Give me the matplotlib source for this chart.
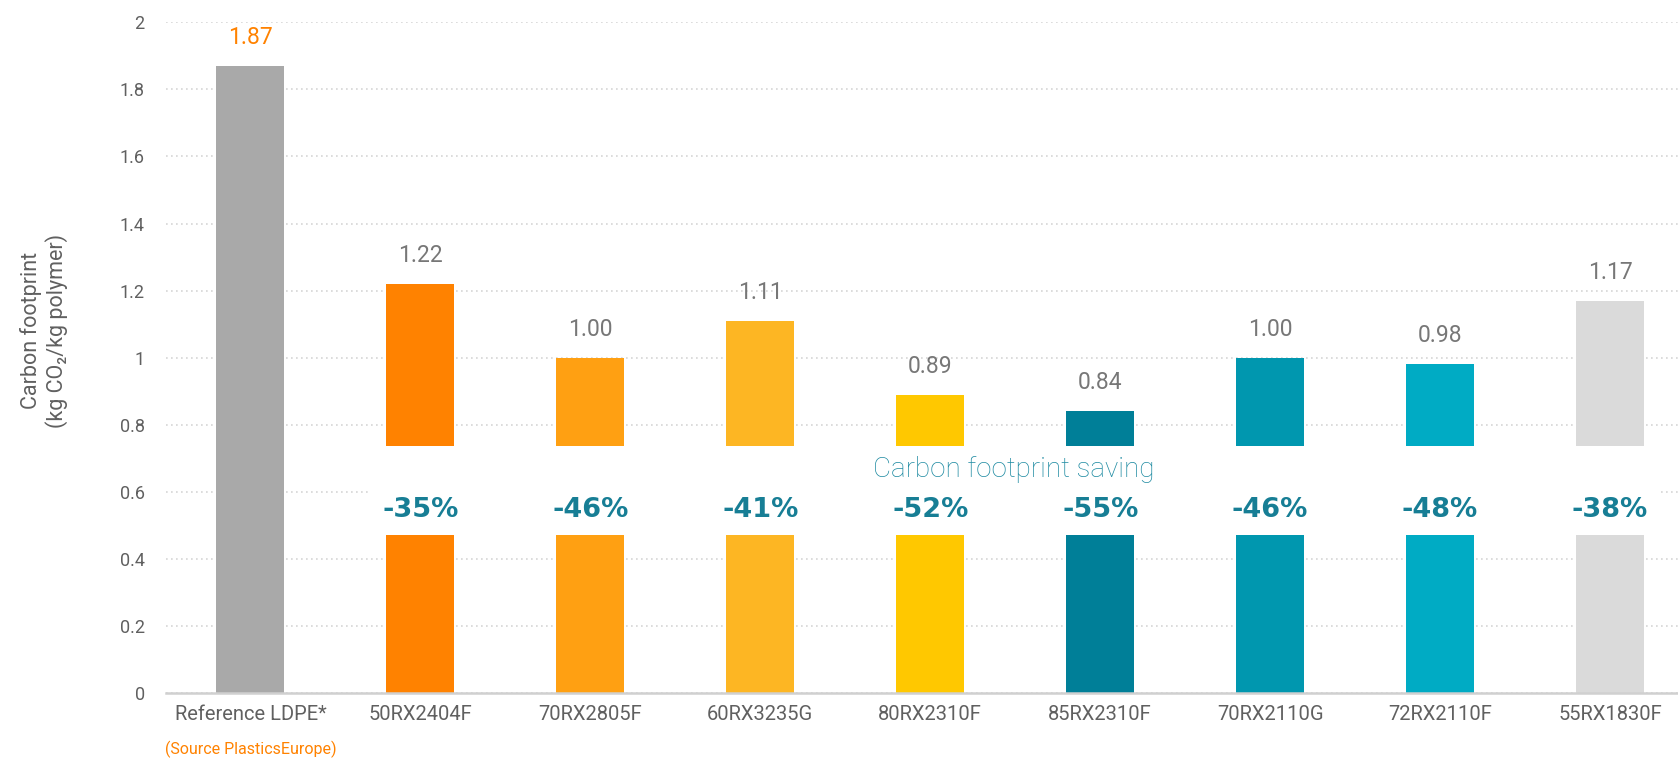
import matplotlib
matplotlib.use('Agg')
import matplotlib.pyplot as plt
import matplotlib.transforms as mtransforms
from matplotlib.patches import Rectangle

plt.rcParams['font.family'] = ['Roboto', 'DejaVu Sans']

products = ['Reference LDPE*', '50RX2404F', '70RX2805F', '60RX3235G', '80RX2310F',
            '85RX2310F', '70RX2110G', '72RX2110F', '55RX1830F']
footprint = [1.87, 1.22, 1.00, 1.11, 0.89, 0.84, 1.00, 0.98, 1.17]
saving_pct = [-35, -46, -41, -52, -55, -46, -48, -38]
bar_colors = ['#A9A9A9', '#FF8200', '#FFA012', '#FDB623', '#FFC800',
              '#007F98', '#0097AF', '#00ABC4', '#DADADA']

grey_text = '#606060'
teal = '#177E95'

fig = plt.figure(figsize=(16.78, 7.6), dpi=100)
ax = fig.add_axes([165.5 / 1678, 67 / 760, 1 - 165.5 / 1678, (693 - 22.3) / 760])

x = list(range(len(products)))
ax.bar(x, footprint, width=0.4, color=bar_colors, zorder=2)

# white band that cuts the bars (and grid) for the saving labels
ax.add_patch(Rectangle((0.71, 0.47), 8.3 - 0.71, 0.736 - 0.47,
                       facecolor='white', edgecolor='none', zorder=3))

ax.set_xlim(-0.5, 8.4)
ax.set_ylim(0, 2)
yt = [i / 5 for i in range(11)]
ax.set_yticks(yt)
ax.set_yticklabels([f'{v:g}' for v in yt])
ax.set_xticks(x)
ax.set_xticklabels(products)
ax.tick_params(axis='y', length=0, pad=15, labelsize=13, labelcolor=grey_text)
ax.tick_params(axis='x', length=0, pad=9, labelsize=14.5, labelcolor=grey_text)
ax.grid(axis='y', linestyle=(0, (1, 2)), color='#D5D5D5', linewidth=1.2, zorder=0)
ax.set_axisbelow(True)
for s in ['top', 'right', 'left']:
    ax.spines[s].set_visible(False)
ax.spines['bottom'].set_color('#D0D0D0')
ax.spines['bottom'].set_linewidth(1.8)

for i, v in enumerate(footprint):
    col = '#FF8200' if i == 0 else '#777777'
    ax.annotate(f'{v:.2f}', (i, v), xytext=(0, 20.5), textcoords='offset points',
                ha='center', va='center', fontsize=16.5, color=col, zorder=4)

for i, p in enumerate(saving_pct):
    ax.text(i + 1, 0.545, f'{p}%', ha='center', va='center', fontsize=19.5,
            fontweight='bold', color=teal, family='DejaVu Sans', zorder=4)

ax.text(3.662, 0.665, 'Carbon footprint saving', ha='left', va='center',
        fontsize=20, fontweight='light', color='#1F8BA2', zorder=4)

ax.set_ylabel('Carbon footprint\n(kg CO\u2082/kg polymer)', fontsize=15.5,
              color=grey_text, linespacing=1.2)
ax.yaxis.set_label_coords(-97 / 1512, 0.54)

trans = mtransforms.blended_transform_factory(ax.transData, fig.transFigure)
ax.text(0, 1 - 749 / 760, '(Source PlasticsEurope)', transform=trans,
        ha='center', va='center', fontsize=11.5, color='#FF8200')

fig.savefig('out.png', dpi=100)
